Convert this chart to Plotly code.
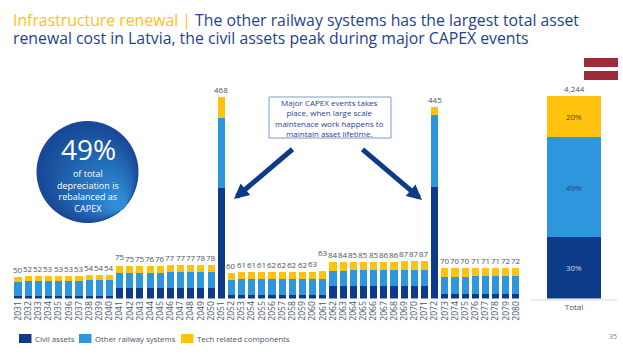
import plotly.graph_objects as go

W, H = 623, 354
years = [str(y) for y in range(2031, 2081)]
civil = [5,5,5,5,5,5,5,5,5,5, 24,24,24,24,24,25,25,25,25,25, 256,
         8,8,8,8,8,8,8,8,8,8, 28,28,28,28,28,28,28,28,28,28, 259,
         11,11,11,11,11,11,11,11]
other = [33,35,35,36,36,36,36,37,37,37, 35,35,35,36,36,36,36,36,37,37, 163,
         36,37,37,37,37,37,37,37,37,38, 37,37,38,38,38,38,38,39,39,39, 167,
         40,40,40,41,41,41,41,41]
tech = [12,12,12,12,12,12,12,12,12,12, 16,16,16,16,16,16,16,16,16,16, 49,
        16,16,16,16,17,17,17,17,17,17, 19,19,19,19,19,20,20,20,20,20, 19,
        19,19,19,19,19,19,20,20]
totals = [50,52,52,53,53,53,53,54,54,54, 75,75,75,76,76,77,77,77,78,78, 468,
          60,61,61,61,62,62,62,62,63,63, 84,84,85,85,85,86,86,87,87,87, 445,
          70,70,70,71,71,71,72,72]
total_cat = ["Total"]
total_sum = 4244
total_shares = [30, 49, 20]
names = ["Civil assets", "Other railway systems", "Tech related components"]

NAVY, BLUE, GOLD = "#0E3A8A", "#2E96DC", "#FFC20E"
INK = "#44546A"
TITLE = "#1F3F8F"
FONT = "Open Sans"
raised_labels = {"2041": 2.5, "2061": 11.5}

def px(x): return x / W
def py(y): return 1 - y / H

fig = go.Figure()
for name, vals, c in zip(names, [civil, other, tech], [NAVY, BLUE, GOLD]):
    fig.add_bar(x=years, y=vals, name=name, marker=dict(color=c, line_width=0), xaxis="x", yaxis="y",
                showlegend=False)
for share, c, tc in zip(total_shares, [NAVY, BLUE, GOLD], ["#C9D6EE", "#1F3F7A", "#5A4A10"]):
    fig.add_bar(x=total_cat, y=[total_sum * share / 99], marker=dict(color=c, line_width=0), xaxis="x2", yaxis="y2",
                text=[f"{share}%"], textposition="inside", insidetextanchor="middle", showlegend=False,
                textangle=0, textfont=dict(size=8, color=tc, family=FONT), width=0.63)

base, top = 298.5, 90
anns = []
def text(x, y, s, size, color, xanchor="center"):
    anns.append(dict(x=px(x), y=py(y), xref="paper", yref="paper", xanchor=xanchor, yanchor="middle",
                     showarrow=False, text=s, font=dict(size=size, color=color, family=FONT)))

for i, (yr, v) in enumerate(zip(years, totals)):
    anns.append(dict(x=i, y=v, xref="x", yref="y", xanchor="center", yanchor="bottom", showarrow=False,
                     yshift=raised_labels.get(yr, 0), text=str(v), font=dict(size=8, color=INK, family=FONT)))
anns.append(dict(x=0, y=total_sum, xref="x2", yref="y2", xanchor="center", yanchor="bottom",
                 showarrow=False, text=f"{total_sum:,}", font=dict(size=8, color=INK, family=FONT)))

text(11, 20.5, "<span style='color:#FFC20E'>Infrastructure renewal | </span>The other railway systems has the largest total asset", 15.8, TITLE, "left")
text(11, 38.5, "renewal cost in Latvia, the civil assets peak during major CAPEX events", 15.8, TITLE, "left")
text(88, 149, "49%", 28, "white")
text(88, 190.5, "of total<br>depreciation is<br>rebalanced as<br>CAPEX", 9, "white")
text(330, 118, "Major CAPEX events takes<br>place, when large scale<br>maintenace work happens to<br>maintain asset lifetime.", 8, TITLE)
for (x0, y0, x1, y1) in [(294, 148, 234, 199), (361, 148, 422, 200)]:
    anns.append(dict(x=px(x1), y=py(y1), ax=x0 - x1, ay=y0 - y1, xref="paper", yref="paper", axref="pixel", ayref="pixel",
                     showarrow=True, arrowhead=2, arrowsize=0.6, arrowwidth=5, arrowcolor=NAVY, text=""))
text(613, 336, "35", 7, "#808080")

legend_x = [19, 79, 181]
for lx, name in zip(legend_x, names):
    text(lx + 14, 339, name, 7.8, INK, "left")

# circle gradient: nested circles tangent at the lower right
cx, cy, r = 87.5, 172, 51
c0, c1 = (24, 72, 150), (48, 140, 214)
n = 24
shapes = []
for i in range(n):
    t = i / (n - 1)
    rr = r * (1 - 0.85 * t)
    off = (r - rr) * 0.707
    col = tuple(int(a + (b - a) * t) for a, b in zip(c0, c1))
    shapes.append(dict(type="circle", xref="paper", yref="paper", layer="below", line_width=0,
                       x0=px(cx + off - rr), x1=px(cx + off + rr), y0=py(cy + off + rr), y1=py(cy + off - rr),
                       fillcolor=f"rgb{col}"))
shapes += [
    dict(type="rect", xref="paper", yref="paper", x0=px(269), x1=px(391), y0=py(138), y1=py(97),
         fillcolor="white", line=dict(color="#7F9CCB", width=1), layer="below"),
    dict(type="rect", xref="paper", yref="paper", x0=px(584), x1=px(618), y0=py(67), y1=py(58),
         fillcolor="#9E2B3A", line_width=0),
    dict(type="rect", xref="paper", yref="paper", x0=px(584), x1=px(618), y0=py(80), y1=py(71),
         fillcolor="#9E2B3A", line_width=0),
]
for lx, c in zip(legend_x, [NAVY, BLUE, GOLD]):
    shapes.append(dict(type="rect", xref="paper", yref="paper", x0=px(lx), x1=px(lx + 12.5), y0=py(343), y1=py(334),
                       fillcolor=c, line_width=0))

fig.update_layout(
    width=W, height=H, autosize=False, barmode="stack", bargap=0.3, showlegend=False,
    margin=dict(l=0, r=0, t=0, b=0), paper_bgcolor="white", plot_bgcolor="rgba(0,0,0,0)",
    font=dict(family=FONT, color=INK),
    xaxis=dict(domain=[px(12.9), px(521)], type="category", range=[-0.5, 49.5], tickmode="array",
               tickvals=years, ticktext=years, tickangle=-90, tickfont=dict(size=8.5, color=INK),
               showgrid=False, showline=False, ticks="", anchor="y"),
    yaxis=dict(domain=[py(base), py(top)], range=[0, (base - top) / 0.43], visible=False),
    xaxis2=dict(domain=[px(531), px(617)], type="category", range=[-0.5, 0.5], tickfont=dict(size=8, color=INK), showgrid=False,
                showline=True, linecolor="#EBEBEB", linewidth=1.5, ticks="", anchor="y2"),
    yaxis2=dict(domain=[py(base), py(top)], range=[0, 4244 * (base - top) / 202.5], visible=False, anchor="x2"),
    annotations=anns, shapes=shapes,
)
fig.write_html("out.html", config=dict(displayModeBar=False), post_script="document.body.style.margin='0';")
